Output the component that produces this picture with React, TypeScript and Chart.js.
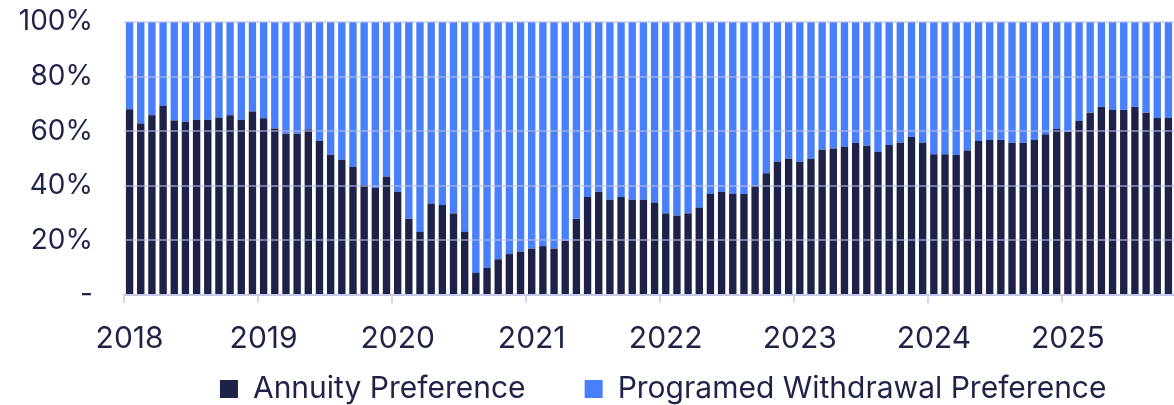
import React, { useEffect, useRef } from "react";
import { Chart, registerables } from "chart.js";

Chart.register(...registerables);

const years = [2018, 2019, 2020, 2021, 2022, 2023, 2024, 2025];
const monthsInLastYear = 10;

const annuity: number[] = [
  68.0, 62.8, 65.8, 69.3, 63.9, 63.5, 64.2, 64.2, 64.9, 65.8, 64.2, 67.2,
  64.7, 61.0, 59.1, 59.1, 60.6, 56.5, 51.4, 49.5, 46.9, 40.3, 39.3, 43.3,
  37.8, 27.9, 23.1, 33.5, 33.0, 29.9, 23.1, 8.1, 10.0, 13.1, 15.0, 15.9,
  17.0, 17.9, 17.0, 19.9, 27.9, 35.9, 37.8, 34.9, 35.9, 34.9, 34.9, 33.9,
  29.9, 29.1, 29.9, 32.0, 37.0, 37.8, 37.0, 37.0, 39.9, 44.6, 48.8, 49.9,
  48.8, 49.9, 53.2, 53.7, 54.2, 55.8, 54.7, 52.5, 54.9, 55.8, 57.9, 55.8,
  51.6, 51.6, 51.3, 52.9, 56.4, 56.8, 56.8, 55.8, 55.8, 56.8, 58.9, 60.8,
  59.8, 63.7, 66.8, 68.9, 67.8, 67.8, 68.9, 66.8, 64.8, 64.8,
];

const withdrawal: number[] = annuity.map((v) => Math.round((100 - v) * 10) / 10);

const labels: string[] = [];
years.forEach((y, yi) => {
  const n = yi === years.length - 1 ? monthsInLastYear : 12;
  for (let m = 1; m <= n; m++) labels.push(`${y}-${String(m).padStart(2, "0")}`);
});

const yTicks = [0, 20, 40, 60, 80, 100];

const NAVY = "#1e2248";
const BLUE = "#4880fc";
const TEXT = "#1f2347";
const GRID = "rgba(185,190,228,0.55)";
const AXIS = "#d3d6ee";
const FONT = "Inter, 'DejaVu Sans', sans-serif";

export default function App() {
  const ref = useRef<HTMLCanvasElement | null>(null);

  useEffect(() => {
    document.body.style.margin = "0";
    if (!ref.current) return;
    const chart = new Chart(ref.current, {
      type: "bar",
      data: {
        labels,
        datasets: [
          {
            label: "Annuity Preference",
            data: annuity,
            backgroundColor: NAVY,
            borderWidth: 0,
            barPercentage: 0.66,
            categoryPercentage: 1,
          },
          {
            label: "Programed Withdrawal Preference",
            data: withdrawal,
            backgroundColor: BLUE,
            borderWidth: 0,
            barPercentage: 0.66,
            categoryPercentage: 1,
          },
        ],
      },
      options: {
        animation: false,
        responsive: true,
        maintainAspectRatio: false,
        layout: { padding: { top: 22, left: 14, right: 0, bottom: -9 } },
        plugins: {
          tooltip: { enabled: false },
          legend: {
            position: "bottom",
            align: "end",
            onClick: () => {},
            labels: {
              color: TEXT,
              font: { family: FONT, size: 30, lineHeight: 1 },
              boxWidth: 18,
              boxHeight: 18,
              padding: 0,
              generateLabels: (c: any) => {
                const items = Chart.defaults.plugins.legend.labels.generateLabels(c);
                items.forEach((it: any, i: number) => {
                  it.lineWidth = 0;
                  it.strokeStyle = "rgba(0,0,0,0)";
                  it.text = it.text + (i === 0 ? "       " : "        ");
                });
                return items;
              },
            },
          },
        },
        scales: {
          x: {
            stacked: true,
            offset: true,
            afterFit: (scale: any) => {
              scale.height = 79;
              scale.paddingLeft = 0;
              scale.paddingRight = 0;
            },
            border: { display: true, color: AXIS, width: 2 },
            grid: {
              offset: true,
              drawOnChartArea: false,
              drawTicks: true,
              tickLength: 8,
              lineWidth: 2,
              color: (ctx: any) =>
                ctx.index !== undefined && ctx.index % 12 === 0 ? AXIS : "rgba(0,0,0,0)",
            },
            ticks: {
              autoSkip: false,
              maxRotation: 0,
              minRotation: 0,
              color: TEXT,
              font: { family: FONT, size: 30 },
              padding: 18,
              callback: (_v: any, i: number) => (i % 12 === 0 ? labels[i].slice(0, 4) : ""),
            },
          },
          y: {
            stacked: true,
            min: 0,
            max: 100,
            afterBuildTicks: (scale: any) => {
              scale.ticks = yTicks.map((v) => ({ value: v }));
            },
            afterFit: (scale: any) => {
              scale.width = 124 - 14;
            },
            border: { display: false },
            grid: {
              color: GRID,
              lineWidth: 2,
              drawTicks: true,
              tickLength: 28,
              tickColor: "rgba(0,0,0,0)",
              z: 1,
            },
            ticks: {
              color: TEXT,
              font: { family: FONT, size: 28 },
              padding: 3,
              callback: (v: any) => (v === 0 ? "-" : `${v}%`),
            },
          },
        },
      },
    });
    return () => chart.destroy();
  }, []);

  return (
    <div style={{ width: 1174, height: 405, position: "relative" }}>
      <canvas ref={ref} />
    </div>
  );
}
